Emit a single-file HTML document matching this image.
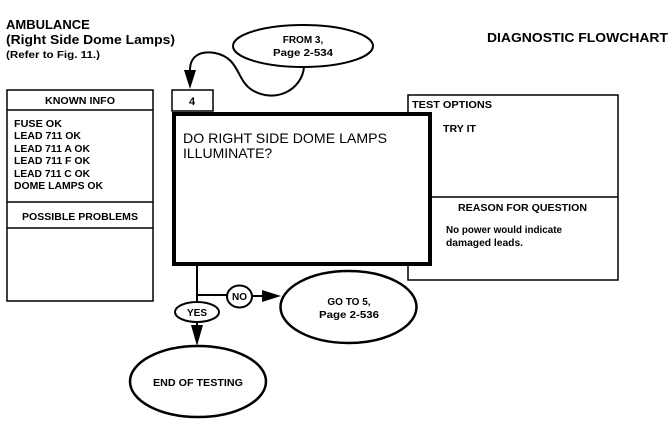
<!DOCTYPE html>
<html><head><meta charset="utf-8"><style>
html,body{margin:0;padding:0;background:#fff;}
svg{display:block;}
text{font-family:"Liberation Sans",Arial,sans-serif;fill:#000;}
.b{font-weight:bold;}
</style></head><body>
<svg width="669" height="438" viewBox="0 0 669 438" xmlns="http://www.w3.org/2000/svg">
<text x="6" y="29" class="b" font-size="13">AMBULANCE</text>
<text x="6" y="44" class="b" font-size="13" textLength="169" lengthAdjust="spacingAndGlyphs">(Right Side Dome Lamps)</text>
<text x="6" y="58" class="b" font-size="10" textLength="94" lengthAdjust="spacingAndGlyphs">(Refer to Fig. 11.)</text>
<text x="487" y="42" class="b" font-size="12.5" textLength="181" lengthAdjust="spacingAndGlyphs">DIAGNOSTIC FLOWCHART</text>

<ellipse cx="303" cy="46" rx="70" ry="21" fill="none" stroke="#000" stroke-width="2"/>
<text x="303" y="43" class="b" font-size="10" text-anchor="middle">FROM 3,</text>
<text x="303" y="56" class="b" font-size="10" text-anchor="middle" textLength="60" lengthAdjust="spacingAndGlyphs">Page 2-534</text>
<path d="M304,67 C302,90 275,104 252,90 C236,80 240,58 215,53 C198,50 190,58 190,70" fill="none" stroke="#000" stroke-width="2"/>
<path d="M184,70 L196,70 L190,89 Z" fill="#000"/>

<!-- known info -->
<rect x="7" y="90" width="146" height="211" fill="none" stroke="#000" stroke-width="1.5"/>
<line x1="7" y1="110" x2="153" y2="110" stroke="#000" stroke-width="1.5"/>
<line x1="7" y1="202" x2="153" y2="202" stroke="#000" stroke-width="1.5"/>
<line x1="7" y1="228" x2="153" y2="228" stroke="#000" stroke-width="1.5"/>
<text x="80" y="104" class="b" font-size="10" text-anchor="middle" textLength="70" lengthAdjust="spacingAndGlyphs">KNOWN INFO</text>
<g class="b" font-size="10">
<text x="14" y="127" textLength="48" lengthAdjust="spacingAndGlyphs">FUSE OK</text>
<text x="14" y="139" textLength="67" lengthAdjust="spacingAndGlyphs">LEAD 711 OK</text>
<text x="14" y="152" textLength="76" lengthAdjust="spacingAndGlyphs">LEAD 711 A OK</text>
<text x="14" y="164" textLength="76" lengthAdjust="spacingAndGlyphs">LEAD 711 F OK</text>
<text x="14" y="177" textLength="76" lengthAdjust="spacingAndGlyphs">LEAD 711 C OK</text>
<text x="14" y="189" textLength="89" lengthAdjust="spacingAndGlyphs">DOME LAMPS OK</text>
</g>
<text x="80" y="220" class="b" font-size="10" text-anchor="middle" textLength="116" lengthAdjust="spacingAndGlyphs">POSSIBLE PROBLEMS</text>

<!-- right box -->
<rect x="408" y="95" width="210" height="185" fill="#fff" stroke="#000" stroke-width="1.5"/>
<line x1="408" y1="197" x2="618" y2="197" stroke="#000" stroke-width="1.5"/>
<text x="412" y="108" class="b" font-size="10" textLength="80" lengthAdjust="spacingAndGlyphs">TEST OPTIONS</text>
<text x="443" y="132" class="b" font-size="10" textLength="33" lengthAdjust="spacingAndGlyphs">TRY IT</text>
<text x="458" y="211" class="b" font-size="10.5" textLength="129" lengthAdjust="spacingAndGlyphs">REASON FOR QUESTION</text>
<text x="446" y="233" class="b" font-size="10" textLength="116" lengthAdjust="spacingAndGlyphs">No power would indicate</text>
<text x="446" y="246" class="b" font-size="10" textLength="77" lengthAdjust="spacingAndGlyphs">damaged leads.</text>

<!-- 4 box -->
<rect x="172" y="90" width="41" height="21" fill="#fff" stroke="#000" stroke-width="1.5"/>
<text x="192" y="105" class="b" font-size="11" text-anchor="middle">4</text>
<!-- main box -->
<rect x="174" y="114" width="256" height="150" fill="#fff" stroke="#000" stroke-width="4"/>
<text x="183" y="143" font-size="14" textLength="204" lengthAdjust="spacingAndGlyphs">DO RIGHT SIDE DOME LAMPS</text>
<text x="183" y="158" font-size="14">ILLUMINATE?</text>

<!-- connectors -->
<line x1="197" y1="266" x2="197" y2="302" stroke="#000" stroke-width="2"/>
<line x1="197" y1="295" x2="227" y2="295" stroke="#000" stroke-width="2"/>
<ellipse cx="239.5" cy="296.5" rx="12.5" ry="11" fill="#fff" stroke="#000" stroke-width="2"/>
<text x="239.5" y="300" class="b" font-size="10" text-anchor="middle">NO</text>
<line x1="252" y1="296" x2="266" y2="296" stroke="#000" stroke-width="2"/>
<path d="M262,290 L281,296 L262,302 Z" fill="#000"/>
<ellipse cx="348.5" cy="307" rx="68" ry="36" fill="#fff" stroke="#000" stroke-width="2.5"/>
<text x="349" y="305" class="b" font-size="10" text-anchor="middle">GO TO 5,</text>
<text x="349" y="318" class="b" font-size="10" text-anchor="middle" textLength="60" lengthAdjust="spacingAndGlyphs">Page 2-536</text>

<ellipse cx="197" cy="312" rx="22" ry="10" fill="#fff" stroke="#000" stroke-width="2"/>
<text x="197" y="316" class="b" font-size="10" text-anchor="middle">YES</text>
<line x1="197" y1="322" x2="197" y2="330" stroke="#000" stroke-width="2"/>
<path d="M191,325 L203,325 L197,346 Z" fill="#000"/>
<ellipse cx="198" cy="381.5" rx="68" ry="35.5" fill="#fff" stroke="#000" stroke-width="2.5"/>
<text x="198" y="386" class="b" font-size="10.5" text-anchor="middle" textLength="90" lengthAdjust="spacingAndGlyphs">END OF TESTING</text>
</svg>
</body></html>
